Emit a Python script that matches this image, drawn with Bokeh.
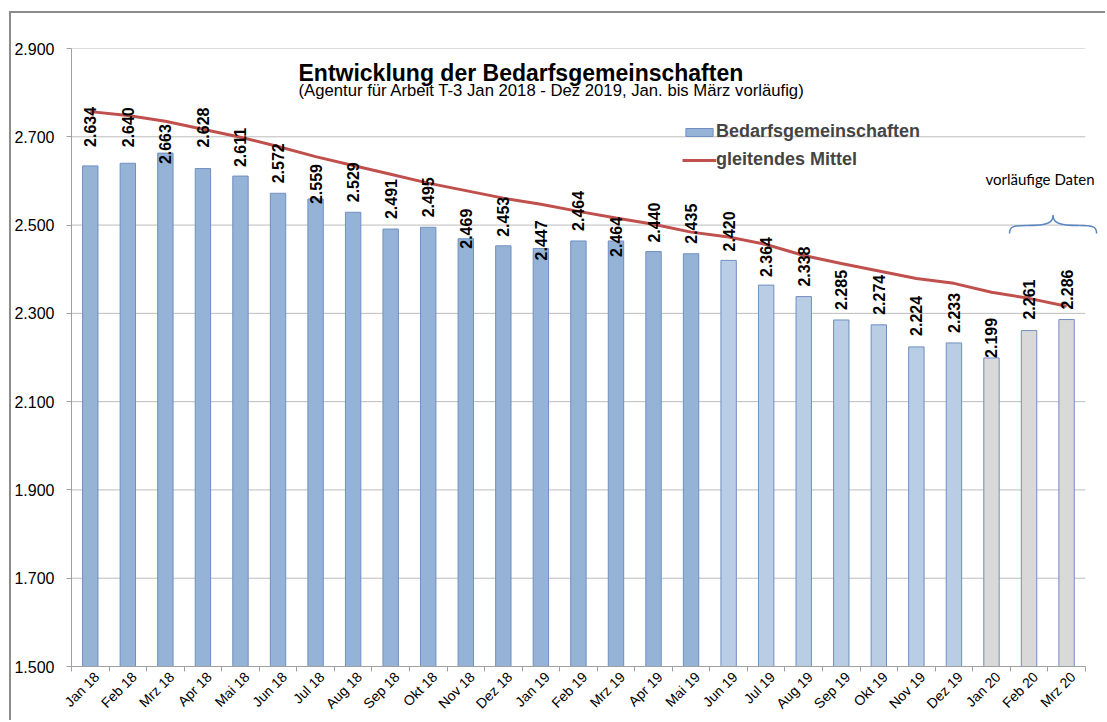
import math
from bokeh.plotting import figure
from bokeh.models import ColumnDataSource, Range1d, FixedTicker, Legend, LegendItem, Label
from bokeh.core.properties import value
from bokeh.transform import factor_cmap
from bokeh.embed import file_html
from bokeh.resources import INLINE

# ---------------- data ----------------
months = ["Jan 18", "Feb 18", "Mrz 18", "Apr 18", "Mai 18", "Jun 18", "Jul 18", "Aug 18",
          "Sep 18", "Okt 18", "Nov 18", "Dez 18", "Jan 19", "Feb 19", "Mrz 19", "Apr 19",
          "Mai 19", "Jun 19", "Jul 19", "Aug 19", "Sep 19", "Okt 19", "Nov 19", "Dez 19",
          "Jan 20", "Feb 20", "Mrz 20"]
bedarfsgemeinschaften = [2634, 2640, 2663, 2628, 2611, 2572, 2559, 2529, 2491, 2495, 2469, 2453,
                         2447, 2464, 2464, 2440, 2435, 2420, 2364, 2338, 2285, 2274, 2224, 2233,
                         2199, 2261, 2286]
gleitendes_mittel = [2757, 2748, 2735, 2717, 2699, 2678, 2655, 2635, 2615, 2595, 2578, 2561,
                     2547, 2531, 2516, 2502, 2484, 2473, 2456, 2431, 2413, 2396, 2379, 2368,
                     2348, 2334, 2316]
status = ["T-3"] * 17 + ["neu"] * 7 + ["vorläufig"] * 3
y_ticks = [1500, 1700, 1900, 2100, 2300, 2500, 2700, 2900]

# presentation: gap (px) between bar top and its value label
label_gap_px = [19, 16, -11, 21, 9, 10, -5, 10, 10, 10, -10, 9, -12, 10, -16, 9, 10, 9, 8, 10,
                10, 10, 11, 10, 0, 11, 10]

n = len(months)
idx = list(range(n))


def de(v):
    return f"{v:,}".replace(",", ".")


src = ColumnDataSource(dict(
    x=idx, month=months, bg=bedarfsgemeinschaften, ma=gleitendes_mittel, status=status,
    lbl=[de(v) for v in bedarfsgemeinschaften],
    yoff=[-g for g in label_gap_px],
))

FONT = value("Liberation Sans")
FRAME_GREY = "#8c8c8c"

p = figure(width=1105, height=720,
           x_range=Range1d(-0.5, n - 0.15), y_range=Range1d(y_ticks[0], y_ticks[-1]),
           output_backend="svg", toolbar_location=None,
           min_border_left=71, min_border_top=48, min_border_bottom=54, min_border_right=7)
# outer chart-area border (top and left edge) painted behind the transparent canvas border
p.styles = {
    "background": (f"linear-gradient({FRAME_GREY},{FRAME_GREY}) 9px 11px / 100% 2px no-repeat, "
                   f"linear-gradient({FRAME_GREY},{FRAME_GREY}) 9px 11px / 2px 100% no-repeat"),
}
p.border_fill_color = None
p.outline_line_color = None
p.xgrid.visible = False
p.ygrid.visible = False
p.background_fill_color = "white"

# horizontal gridlines limited to the category extent
p.segment(x0=[-0.5] * len(y_ticks), x1=[n - 0.5] * len(y_ticks), y0=y_ticks, y1=y_ticks,
          line_color="#bcbcbc", line_width=1, level="underlay")

bars = p.vbar(x="x", top="bg", bottom=y_ticks[0], width=0.41, source=src,
              fill_color=factor_cmap("status", ["#95B3D7", "#B9CDE5", "#D9D9D9"],
                                     ["T-3", "neu", "vorläufig"]),
              line_color="#6F8FC0", line_width=1)

line = p.line(x="x", y="ma", source=src, line_color="#C0504D", line_width=3)

p.text(x="x", y="bg", text="lbl", source=src, angle=math.pi / 2, y_offset="yoff",
       text_align="left", text_baseline="middle", text_font=FONT,
       text_font_style="bold", text_font_size="16px", text_color="black")

# x axis: month labels slightly right of centre, ticks between categories
label_pos = [i + 0.17 for i in idx]
p.xaxis.ticker = FixedTicker(ticks=label_pos, minor_ticks=[i - 0.5 for i in range(n + 1)])
p.xaxis.major_label_overrides = {pos: m for pos, m in zip(label_pos, months)}
p.xaxis.major_label_orientation = math.pi / 4
p.xaxis.major_tick_out = 0
p.xaxis.major_tick_in = 0
p.xaxis.minor_tick_out = 5
p.xaxis.minor_tick_in = 0
p.xaxis.minor_tick_line_color = "#a0a0a0"
p.xaxis.axis_line_color = "#a0a0a0"
p.xaxis.bounds = (-0.5, n - 0.5)
p.xaxis.major_label_standoff = 3
p.xaxis.major_label_text_font = "Liberation Sans"
p.xaxis.major_label_text_font_size = "14px"
p.xaxis.major_label_text_color = "black"

p.yaxis.ticker = FixedTicker(ticks=y_ticks)
p.yaxis.major_label_overrides = {t: de(t) for t in y_ticks}
p.yaxis.major_tick_out = 5
p.yaxis.major_tick_in = 0
p.yaxis.minor_tick_line_color = None
p.yaxis.major_tick_line_color = "#a0a0a0"
p.yaxis.axis_line_color = "#a0a0a0"
p.yaxis.major_label_standoff = 12
p.yaxis.major_label_text_font = "Liberation Sans"
p.yaxis.major_label_text_font_size = "16px"
p.yaxis.major_label_text_color = "black"

# title texts (screen units relative to plot frame)
p.add_layout(Label(x=227, y=594, x_units="screen", y_units="screen",
                   text="Entwicklung der Bedarfsgemeinschaften", text_font="Liberation Sans",
                   text_font_style="bold", text_font_size="23px", text_baseline="alphabetic",
                   text_color="black"))
p.add_layout(Label(x=227, y=576, x_units="screen", y_units="screen",
                   text="(Agentur für Arbeit T-3 Jan 2018 - Dez 2019, Jan. bis März vorläufig)",
                   text_font="Liberation Sans", text_font_size="16.7px",
                   text_baseline="alphabetic", text_color="black"))

# preliminary-data annotation with curly brace
p.add_layout(Label(x=914, y=488, x_units="screen", y_units="screen",
                   text="vorläufige Daten", text_font="Lato", text_font_size="15px",
                   text_baseline="middle", text_color="black"))
bx0, bx1 = 24.48, 26.80
bxm = (bx0 + bx1) / 2
by_end, by_mid, by_tip = 2481, 2499, 2522
p.bezier(x0=[bx0, bxm - 0.7, bxm, bxm + 0.7],
         y0=[by_end, by_mid, by_tip, by_mid],
         x1=[bxm - 0.7, bxm, bxm + 0.7, bx1],
         y1=[by_mid, by_tip, by_mid, by_end],
         cx0=[bx0, bxm - 0.15, bxm, bx1 - 0.1],
         cy0=[by_mid - 2, by_mid, by_mid + 6, by_mid],
         cx1=[bx0 + 0.1, bxm, bxm + 0.15, bx1],
         cy1=[by_mid, by_mid + 6, by_mid, by_mid - 2],
         line_color="#5B86C0", line_width=1.5)

legend = Legend(items=[LegendItem(label="Bedarfsgemeinschaften", renderers=[bars]),
                       LegendItem(label="gleitendes Mittel", renderers=[line])],
                location=(611, 496), padding=0, margin=0, spacing=7,
                glyph_width=34, glyph_height=10, label_height=21, label_standoff=0,
                label_text_font="Liberation Sans", label_text_font_style="bold",
                label_text_font_size="18px", border_line_color=None,
                background_fill_alpha=0)
p.add_layout(legend, "center")

open("out.html", "w").write(file_html(p, INLINE))
